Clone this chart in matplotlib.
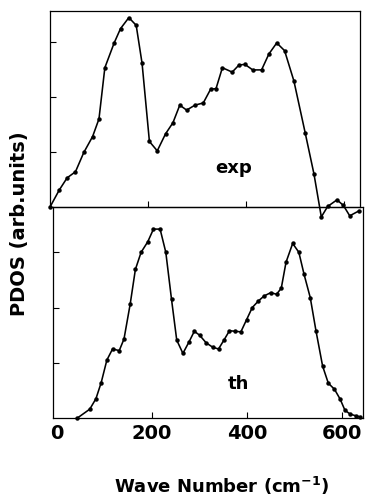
import matplotlib
matplotlib.use("Agg")
import matplotlib.pyplot as plt

# Experimental PDOS (upper panel)
exp_x = [0, 19, 35, 52, 69, 87, 100, 112, 131, 144, 161, 176, 188, 203, 219, 236, 251,
         265, 279, 296, 313, 328, 339, 352, 372, 386, 398, 414, 432, 447, 463, 479, 498,
         521, 539, 554, 567, 586, 599, 612, 631]
exp_y = [0.00, 0.31, 0.53, 0.64, 0.99, 1.28, 1.60, 2.53, 2.98, 3.24, 3.44, 3.30, 2.61,
         1.19, 1.02, 1.33, 1.53, 1.85, 1.76, 1.85, 1.89, 2.14, 2.15, 2.53, 2.45, 2.58,
         2.59, 2.49, 2.49, 2.78, 2.98, 2.84, 2.29, 1.35, 0.60, -0.18, 0.01, 0.13, 0.03,
         -0.16, -0.07]

# Theoretical PDOS (lower panel)
th_x = [43, 69, 82, 93, 105, 117, 131, 141, 154, 165, 177, 191, 203, 217, 229, 241, 252,
        265, 278, 289, 300, 314, 328, 340, 352, 363, 375, 387, 399, 411, 424, 436, 450,
        462, 472, 482, 496, 509, 520, 533, 545, 559, 571, 584, 596, 606, 617, 629, 638]
th_y = [0.00, 0.16, 0.35, 0.64, 1.05, 1.25, 1.22, 1.43, 2.06, 2.69, 3.00, 3.19, 3.42,
        3.42, 3.00, 2.15, 1.41, 1.17, 1.38, 1.57, 1.50, 1.36, 1.28, 1.25, 1.42, 1.58,
        1.57, 1.56, 1.78, 2.00, 2.12, 2.21, 2.27, 2.24, 2.35, 2.82, 3.16, 3.00, 2.60,
        2.18, 1.58, 0.94, 0.63, 0.52, 0.34, 0.14, 0.07, 0.04, 0.02]

xtick_labels = ["0", "200", "400", "600"]
xtick_pos = [0, 200, 400, 600]
yticks = [1, 2, 3]

W, H = 370, 498
fig = plt.figure(figsize=(W / 100, H / 100), dpi=100)

def frac_box(left, right, top, bottom):
    return [left / W, 1 - bottom / H, (right - left) / W, (bottom - top) / H]

ax_bot = fig.add_axes(frac_box(53, 363, 207, 418))
ax_top = fig.add_axes(frac_box(50, 360, 11, 207))
ax_top.set_zorder(3)
ax_top.patch.set_alpha(0)

line_kw = dict(color="black", lw=1.15, marker="o", markersize=2.2)

ax_top.plot(exp_x, exp_y, clip_on=False, zorder=5, **line_kw)
ax_top.set_xlim(0, 633)
ax_top.set_ylim(0, 3.56)

ax_bot.plot(th_x, th_y, clip_on=False, **line_kw)
ax_bot.set_xlim(-8.4, 644)
ax_bot.set_ylim(0, 3.82)

for ax in (ax_top, ax_bot):
    for sp in ax.spines.values():
        sp.set_linewidth(0.9)
        sp.set_color("black")
    ax.set_yticks(yticks)
    ax.set_yticklabels([])
    ax.tick_params(axis="both", direction="in", length=4, width=0.8,
                   right=False, top=False)

ax_top.set_xticks([200, 400, 600])
ax_top.set_xticklabels([])

ax_bot.set_xticks([200, 400, 600])
ax_bot.set_xticklabels([])
for pos, lab in zip(xtick_pos, xtick_labels):
    ax_bot.annotate(lab, xy=(pos, 0), xycoords=("data", "axes fraction"),
                    xytext=(0, -15), textcoords="offset pixels",
                    ha="center", va="center", fontsize=14, fontweight="bold",
                    color="black", annotation_clip=False)

fig.text(234 / W, 1 - 168 / H, "exp", fontsize=13, fontweight="bold",
         ha="center", va="center")
fig.text(238 / W, 1 - 384 / H, "th", fontsize=13, fontweight="bold",
         ha="center", va="center")

fig.text(20 / W, 1 - 224 / H, "PDOS (arb.units)", rotation=90, fontsize=14,
         fontweight="bold", ha="center", va="center")
fig.text(222 / W, 1 - 486 / H, r"Wave Number (cm$^{\mathbf{-1}}$)", fontsize=13,
         fontweight="bold", ha="center", va="center")

fig.savefig("out.png", dpi=100)
